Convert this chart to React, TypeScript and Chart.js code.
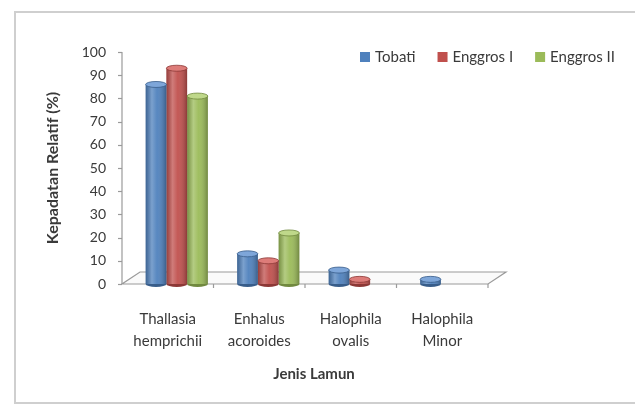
import React, { useEffect, useRef } from 'react';
import { Chart, registerables } from 'chart.js';

Chart.register(...registerables);

const categories: string[][] = [
  ['Thallasia', 'hemprichii'],
  ['Enhalus', 'acoroides'],
  ['Halophila', 'ovalis'],
  ['Halophila', 'Minor'],
];
const seriesNames = ['Tobati', 'Enggros I', 'Enggros II'];
const tobati = [86, 13, 6, 2];
const enggrosI = [93, 10, 2, 0];
const enggrosII = [81, 22, 0, 0];
const seriesColors = ['#4F81BD', '#C0504D', '#9BBB59'];
const seriesLight = ['#7EA6D9', '#DD7C79', '#BFD88A'];
const seriesDark = ['#385D8A', '#8C3836', '#71893F'];
const yMin = 0;
const yMax = 100;
const yStep = 10;
const yTitle = 'Kepadatan Relatif (%)';
const xTitle = 'Jenis Lamun';

const FONT = 'Lato, "Open Sans", sans-serif';
const TEXT = '#3a3a3a';

const framePlugin = {
  id: 'frame',
  beforeDraw(chart: any) {
    const ctx = chart.ctx;
    ctx.save();
    ctx.fillStyle = '#ffffff';
    ctx.fillRect(0, 0, chart.width, chart.height);
    ctx.strokeStyle = '#cfcfcf';
    ctx.lineWidth = 2;
    ctx.beginPath();
    ctx.moveTo(chart.width, 12);
    ctx.lineTo(15, 12);
    ctx.lineTo(15, 403);
    ctx.lineTo(chart.width, 403);
    ctx.stroke();
    ctx.restore();
  },
};

const DX = 18;
const DY = -12;

const floorPlugin = {
  id: 'floor',
  beforeDatasetsDraw(chart: any) {
    const ctx = chart.ctx;
    const ys = chart.scales.y;
    const xs = chart.scales.x;
    const y0 = ys.getPixelForValue(yMin);
    const yTop = ys.getPixelForValue(yMax);
    const fl = xs.left - DX / 2;
    const fr = xs.right - DX / 2;
    ctx.save();
    ctx.strokeStyle = '#9a9a9a';
    ctx.lineWidth = 1.2;
    ctx.beginPath();
    ctx.moveTo(fl, y0);
    ctx.lineTo(fr, y0);
    ctx.lineTo(fr + DX, y0 + DY);
    ctx.lineTo(fl + DX, y0 + DY);
    ctx.closePath();
    ctx.fillStyle = '#fafafa';
    ctx.fill();
    ctx.stroke();
    ctx.beginPath();
    ctx.moveTo(fl, yTop);
    ctx.lineTo(fl, y0);
    ctx.stroke();
    for (let v = yMin; v <= yMax; v += yStep) {
      const py = Math.round(ys.getPixelForValue(v)) + 0.5;
      ctx.beginPath();
      ctx.moveTo(fl - 4, py);
      ctx.lineTo(fl, py);
      ctx.stroke();
    }
    const n = categories.length;
    for (let i = 1; i <= n; i++) {
      const px = fl + ((fr - fl) * i) / n;
      ctx.beginPath();
      ctx.moveTo(px, y0);
      ctx.lineTo(px, y0 + 4);
      ctx.stroke();
    }
    ctx.restore();
  },
};

const cylinderPlugin = {
  id: 'cylinder',
  afterDatasetsDraw(chart: any) {
    const ctx = chart.ctx;
    ctx.save();
    chart.data.datasets.forEach((ds: any, di: number) => {
      const meta = chart.getDatasetMeta(di);
      meta.data.forEach((bar: any, i: number) => {
        const v = ds.data[i];
        if (!v) return;
        const { x, y, base, width } = bar.getProps(['x', 'y', 'base', 'width'], true);
        const l = x - width / 2;
        const h = base - y;
        const g = ctx.createLinearGradient(l, 0, l + width, 0);
        g.addColorStop(0, 'rgba(0,0,0,0.22)');
        g.addColorStop(0.3, 'rgba(255,255,255,0.25)');
        g.addColorStop(0.55, 'rgba(255,255,255,0.05)');
        g.addColorStop(1, 'rgba(0,0,0,0.28)');
        ctx.fillStyle = g;
        ctx.fillRect(l, y, width, h);
        const ry = 3;
        ctx.beginPath();
        ctx.ellipse(x, base, width / 2, ry, 0, 0, Math.PI);
        ctx.fillStyle = seriesDark[di];
        ctx.fill();
        ctx.beginPath();
        ctx.ellipse(x, y, width / 2, ry, 0, 0, Math.PI * 2);
        ctx.fillStyle = seriesLight[di];
        ctx.fill();
        ctx.strokeStyle = seriesDark[di];
        ctx.lineWidth = 0.8;
        ctx.stroke();
      });
    });
    ctx.restore();
  },
};

const legendPlugin = {
  id: 'customLegend',
  afterDraw(chart: any) {
    const ctx = chart.ctx;
    ctx.save();
    ctx.font = `15px ${FONT}`;
    ctx.textBaseline = 'middle';
    ctx.textAlign = 'left';
    let x = 360;
    const y = 57;
    chart.data.datasets.forEach((ds: any, i: number) => {
      ctx.fillStyle = seriesColors[i];
      ctx.fillRect(x, y - 5, 10, 10);
      x += 15;
      ctx.fillStyle = TEXT;
      ctx.fillText(ds.label, x, y);
      x += ctx.measureText(ds.label).width + 22;
    });
    ctx.restore();
  },
};

export default function App() {
  const ref = useRef<HTMLCanvasElement | null>(null);
  useEffect(() => {
    if (!ref.current) return;
    const values = [tobati, enggrosI, enggrosII];
    const chart = new Chart(ref.current, {
      type: 'bar',
      data: {
        labels: categories,
        datasets: seriesNames.map((name, i) => ({
          label: name,
          data: values[i],
          backgroundColor: seriesColors[i],
          borderWidth: 0,
          categoryPercentage: 0.68,
          barPercentage: 1.0,
        })),
      },
      options: {
        responsive: false,
        animation: false,
        devicePixelRatio: 1,
        layout: { padding: { top: 52, right: 138, left: 0, bottom: 0 } },
        plugins: { legend: { display: false }, tooltip: { enabled: false } },
        scales: {
          x: {
            grid: { display: false, drawTicks: false },
            border: { display: false },
            ticks: {
              color: TEXT,
              font: { family: FONT, size: 15, lineHeight: 1.47 },
              padding: 24,
              labelOffset: -9,
              maxRotation: 0,
              autoSkip: false,
            },
            title: {
              display: true,
              text: xTitle,
              color: TEXT,
              font: { family: FONT, size: 15, weight: 'bold' },
              padding: { top: 0, bottom: 22 },
            },
            afterFit(scale: any) {
              scale.height = 121;
            },
          },
          y: {
            min: yMin,
            max: yMax,
            grid: { display: false, drawTicks: false },
            border: { display: false },
            ticks: {
              stepSize: yStep,
              color: TEXT,
              font: { family: FONT, size: 14 },
              padding: 25,
            },
            title: {
              display: true,
              text: yTitle,
              color: TEXT,
              font: { family: FONT, size: 16, weight: 'bold' },
              padding: { top: 43, bottom: 0 },
            },
            afterFit(scale: any) {
              scale.width = 131;
            },
          },
        },
      },
      plugins: [framePlugin, floorPlugin, cylinderPlugin, legendPlugin],
    });
    return () => chart.destroy();
  }, []);
  return (
    <div style={{ position: 'fixed', left: 0, top: 0, width: 635, height: 405 }}>
      <canvas ref={ref} width={635} height={405} />
    </div>
  );
}
